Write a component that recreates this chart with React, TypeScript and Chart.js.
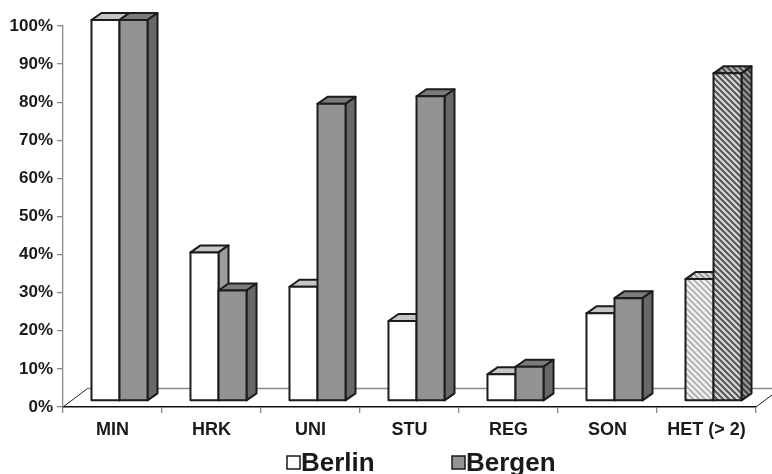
import React, { useEffect, useRef } from 'react';
import { Chart, registerables } from 'chart.js';

Chart.register(...registerables);

// ---------- data ----------
const categories = ['MIN', 'HRK', 'UNI', 'STU', 'REG', 'SON', 'HET (> 2)'];
const berlin = [100, 39, 30, 21, 7, 23, 32];
const bergen = [100, 29, 78, 80, 9, 27, 86];
const seriesNames = ['Berlin', 'Bergen'];
const yTickStep = 10;
const yMax = 100;

const FONT = '"Liberation Sans", Arial, Helvetica, sans-serif';

// 3D geometry (pixels)
const FACE_DX = 7;
const FACE_DY = -6;
const DEPTH_X = 10;
const DEPTH_Y = -7;
const FLOOR_X = 24.5;
const FLOOR_Y = -18.5;

function makeHatch(bg: string, fg: string, size = 6, lw = 2) {
  const c = document.createElement('canvas');
  c.width = size;
  c.height = size;
  const g = c.getContext('2d')!;
  g.fillStyle = bg;
  g.fillRect(0, 0, size, size);
  g.strokeStyle = fg;
  g.lineWidth = lw;
  g.beginPath();
  for (let k = -1; k <= 1; k++) {
    g.moveTo(k * size - 1, -1);
    g.lineTo(k * size + size + 1, size + 1);
  }
  g.stroke();
  const ctx = document.createElement('canvas').getContext('2d')!;
  return ctx.createPattern(c, 'repeat')!;
}

export default function App() {
  const ref = useRef<HTMLCanvasElement | null>(null);

  useEffect(() => {
    if (!ref.current) return;
    const hetIndex = categories.length - 1;

    const faces = [
      {
        front: '#ffffff',
        top: '#c6c6c6',
        side: '#9c9c9c',
        hFront: makeHatch('#f4f4f4', '#b4b4b4'),
        hTop: makeHatch('#dcdcdc', '#9a9a9a'),
        hSide: makeHatch('#bcbcbc', '#8a8a8a'),
      },
      {
        front: '#939393',
        top: '#7b7b7b',
        side: '#686868',
        hFront: makeHatch('#d8d8d8', '#555555'),
        hTop: makeHatch('#b0b0b0', '#4a4a4a'),
        hSide: makeHatch('#9a9a9a', '#3e3e3e'),
      },
    ];

    const threeD = {
      id: 'threeD',
      beforeDatasetsDraw(chart: any) {
        const { ctx, chartArea } = chart;
        const { left, right, bottom } = chartArea;
        ctx.save();
        ctx.strokeStyle = '#8a8a8a';
        ctx.lineWidth = 1.3;
        ctx.beginPath();
        ctx.moveTo(left + FLOOR_X, bottom + FLOOR_Y);
        ctx.lineTo(right + FLOOR_X, bottom + FLOOR_Y);
        ctx.stroke();
        ctx.strokeStyle = '#222';
        ctx.lineWidth = 1;
        ctx.beginPath();
        ctx.moveTo(left, bottom);
        ctx.lineTo(left + FLOOR_X, bottom + FLOOR_Y);
        ctx.moveTo(right, bottom);
        ctx.lineTo(right + FLOOR_X, bottom + FLOOR_Y);
        ctx.stroke();
        ctx.restore();
      },
      beforeDatasetDraw() {
        return false;
      },
      afterDatasetsDraw(chart: any) {
        const { ctx } = chart;
        ctx.save();
        ctx.lineJoin = 'round';
        ctx.strokeStyle = '#1c1c1c';
        ctx.lineWidth = 2;
        for (let i = 0; i < categories.length; i++) {
          for (let d = 0; d < chart.data.datasets.length; d++) {
            const meta = chart.getDatasetMeta(d);
            const el = meta.data[i];
            if (!el) continue;
            const p = el.getProps(['x', 'y', 'base', 'width'], true);
            const L = p.x - p.width / 2 + FACE_DX;
            const R = p.x + p.width / 2 + FACE_DX;
            const T = p.y + FACE_DY;
            const B = p.base + FACE_DY;
            const f = faces[d];
            const het = i === hetIndex;
            // top face
            ctx.beginPath();
            ctx.moveTo(L, T);
            ctx.lineTo(L + DEPTH_X, T + DEPTH_Y);
            ctx.lineTo(R + DEPTH_X, T + DEPTH_Y);
            ctx.lineTo(R, T);
            ctx.closePath();
            ctx.fillStyle = het ? f.hTop : f.top;
            ctx.fill();
            ctx.stroke();
            // side face
            ctx.beginPath();
            ctx.moveTo(R, T);
            ctx.lineTo(R + DEPTH_X, T + DEPTH_Y);
            ctx.lineTo(R + DEPTH_X, B + DEPTH_Y);
            ctx.lineTo(R, B);
            ctx.closePath();
            ctx.fillStyle = het ? f.hSide : f.side;
            ctx.fill();
            ctx.stroke();
            // front face
            ctx.beginPath();
            ctx.rect(L, T, R - L, B - T);
            ctx.fillStyle = het ? f.hFront : f.front;
            ctx.fill();
            ctx.stroke();
          }
        }
        ctx.restore();
      },
      afterDraw(chart: any) {
        const { ctx } = chart;
        ctx.save();
        ctx.font = `bold 26px ${FONT}`;
        ctx.textBaseline = 'alphabetic';
        const items = [
          { x: 287, fill: faces[0].front },
          { x: 452, fill: faces[1].front },
        ];
        items.forEach((it, k) => {
          ctx.fillStyle = it.fill;
          ctx.fillRect(it.x, 456, 13, 13);
          ctx.strokeStyle = '#1a1a1a';
          ctx.lineWidth = 1.5;
          ctx.strokeRect(it.x, 456, 13, 13);
          ctx.fillStyle = '#1a1a1a';
          ctx.fillText(seriesNames[k], it.x + 14, 471);
        });
        ctx.restore();
      },
    };

    const chart = new Chart(ref.current, {
      type: 'bar',
      data: {
        labels: categories,
        datasets: [
          { label: seriesNames[0], data: berlin, backgroundColor: '#ffffff' },
          { label: seriesNames[1], data: bergen, backgroundColor: '#939393' },
        ],
      },
      options: {
        animation: false,
        responsive: false,
        events: [],
        layout: { padding: { top: 26, right: 16, left: 0, bottom: 0 } },
        datasets: {
          bar: { categoryPercentage: 0.566, barPercentage: 1.0 },
        },
        plugins: {
          legend: { display: false },
          tooltip: { enabled: false },
        },
        scales: {
          x: {
            offset: true,
            afterFit: (s: any) => {
              s.height = 67;
            },
            grid: {
              offset: true,
              drawOnChartArea: false,
              drawTicks: true,
              tickLength: 6,
              color: '#8a8a8a',
              lineWidth: 1.3,
            },
            border: { display: true, color: '#111', width: 1.5 },
            ticks: {
              color: '#1a1a1a',
              font: { family: FONT, size: 18, weight: 'bold' },
              padding: 6,
              maxRotation: 0,
            },
          },
          y: {
            min: 0,
            max: yMax,
            afterFit: (s: any) => {
              s.width = 63;
            },
            grid: {
              drawOnChartArea: false,
              drawTicks: true,
              tickLength: 6,
              color: '#8a8a8a',
              lineWidth: 1.3,
            },
            border: { display: true, color: '#8a8a8a', width: 1.3 },
            ticks: {
              stepSize: yTickStep,
              color: '#1a1a1a',
              font: { family: FONT, size: 17, weight: 'bold' },
              padding: 4,
              callback: (v: any) => `${v}%`,
            },
          },
        },
      },
      plugins: [threeD],
    });
    return () => chart.destroy();
  }, []);

  return (
    <div style={{ position: 'fixed', left: 0, top: 0, width: 772, height: 474, background: '#fff' }}>
      <canvas ref={ref} width={772} height={474} style={{ width: 772, height: 474, display: 'block' }} />
    </div>
  );
}
